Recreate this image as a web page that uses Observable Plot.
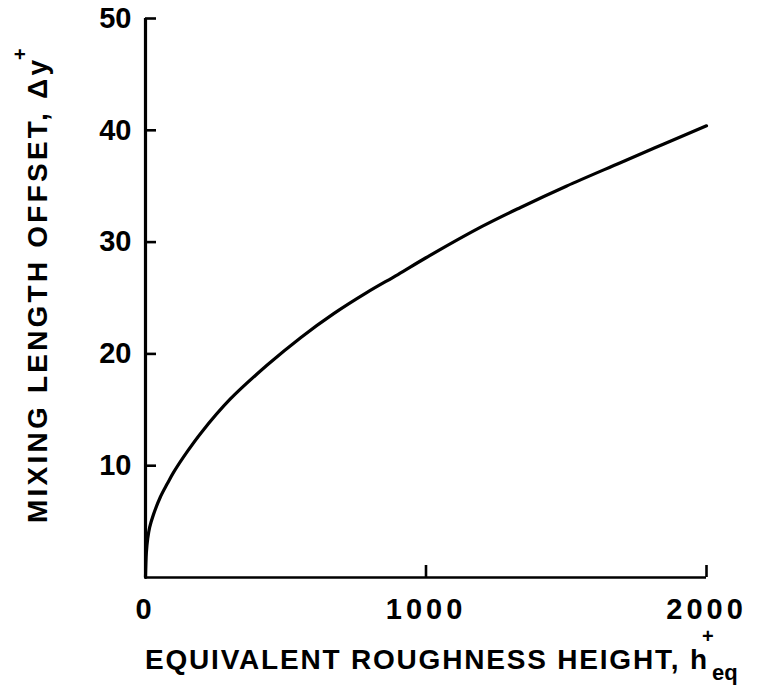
<!DOCTYPE html>
<html><head><meta charset="utf-8">
<script src="https://cdn.jsdelivr.net/npm/d3@7"></script>
<script src="https://cdn.jsdelivr.net/npm/@observablehq/plot@0.6"></script>
<style>
body{margin:0;background:#fff}
#chart svg{background:#fff}
#chart svg text{font-family:"Liberation Sans",Arial,Helvetica,sans-serif;font-weight:bold;fill:#000}
</style></head><body><div id="chart"></div>
<script>
// Equivalent roughness height h+eq (x) and mixing length offset Δy+ (y)
const roughness = [0, 3, 8, 15, 28, 53, 78, 100, 150, 200, 300, 434, 553, 671, 790, 900, 1000, 1200, 1337, 1500, 1693, 1850, 2000];
const offset    = [0, 2.2, 3.5, 4.5, 5.6, 7.2, 8.4, 9.4, 11.3, 13.0, 15.9, 19.0, 21.45, 23.6, 25.5, 27.1, 28.6, 31.4, 33.1, 35.0, 37.1, 38.8, 40.4];
const xTicks = [0, 1000, 2000];
const yTicks = [10, 20, 30, 40, 50];
const xLabel = "EQUIVALENT ROUGHNESS HEIGHT, h";
const yLabel = "MIXING LENGTH OFFSET, \u0394y";

const data = roughness.map((h, i) => ({h, dy: offset[i]}));

const W = 778, H = 687;
const mL = 145, mR = 72, mT = 18, mB = 110;
const fw = W - mL - mR, fh = H - mT - mB;

const chart = Plot.plot({
  width: W, height: H,
  marginLeft: mL, marginRight: mR, marginTop: mT, marginBottom: mB,
  style: {fontSize: "28px", background: "#fff", color: "#000"},
  x: {domain: [0, 2000], label: null},
  y: {domain: [0, 50], label: null},
  marks: [
    Plot.ruleX([0], {stroke: "#000", strokeWidth: 3.2}),
    Plot.ruleY([0], {stroke: "#000", strokeWidth: 2.6}),
    Plot.ruleY(yTicks, {stroke: "#000", strokeWidth: 2.6, insetRight: fw - 11}),
    Plot.ruleX(xTicks.filter(d => d > 0), {stroke: "#000", strokeWidth: 2.6, insetTop: fh - 12}),
    Plot.axisY({ticks: yTicks, tickSize: 0, tickPadding: 14, label: null, fontSize: 29, tickFormat: d => String(d)}),
    Plot.axisX({ticks: xTicks, tickSize: 0, tickPadding: 21, label: null, fontSize: 29, tickFormat: d => String(d)}),
    Plot.line(data, {x: "h", y: "dy", curve: "catmull-rom", stroke: "#000", strokeWidth: 3.2})
  ]
});
document.getElementById("chart").appendChild(chart);

const svg = d3.select(chart);
svg.selectAll("g[aria-label='x-axis tick label'] text").style("letter-spacing", "4px");

// x-axis title with superscript + and subscript eq
const xt = svg.append("text").attr("text-anchor", "start").attr("x", mL).attr("y", 669).style("font-size", "28px");
xt.append("tspan").text(xLabel).attr("textLength", 562).attr("lengthAdjust", "spacing");
svg.append("text").attr("text-anchor", "start").attr("x", 702).attr("y", 643).style("font-size", "20px").text("+");
svg.append("text").attr("text-anchor", "start").attr("x", 712).attr("y", 680).style("font-size", "22px").text("eq");

// y-axis title rotated, with superscript +
const yt = svg.append("text").attr("text-anchor", "start").attr("transform", "translate(47,523) rotate(-90)").style("font-size", "28px");
yt.append("tspan").text(yLabel).attr("textLength", 463).attr("lengthAdjust", "spacing");
svg.append("text").attr("text-anchor", "start").attr("transform", "translate(27,60) rotate(-90)").style("font-size", "20px").text("+");
</script></body></html>
